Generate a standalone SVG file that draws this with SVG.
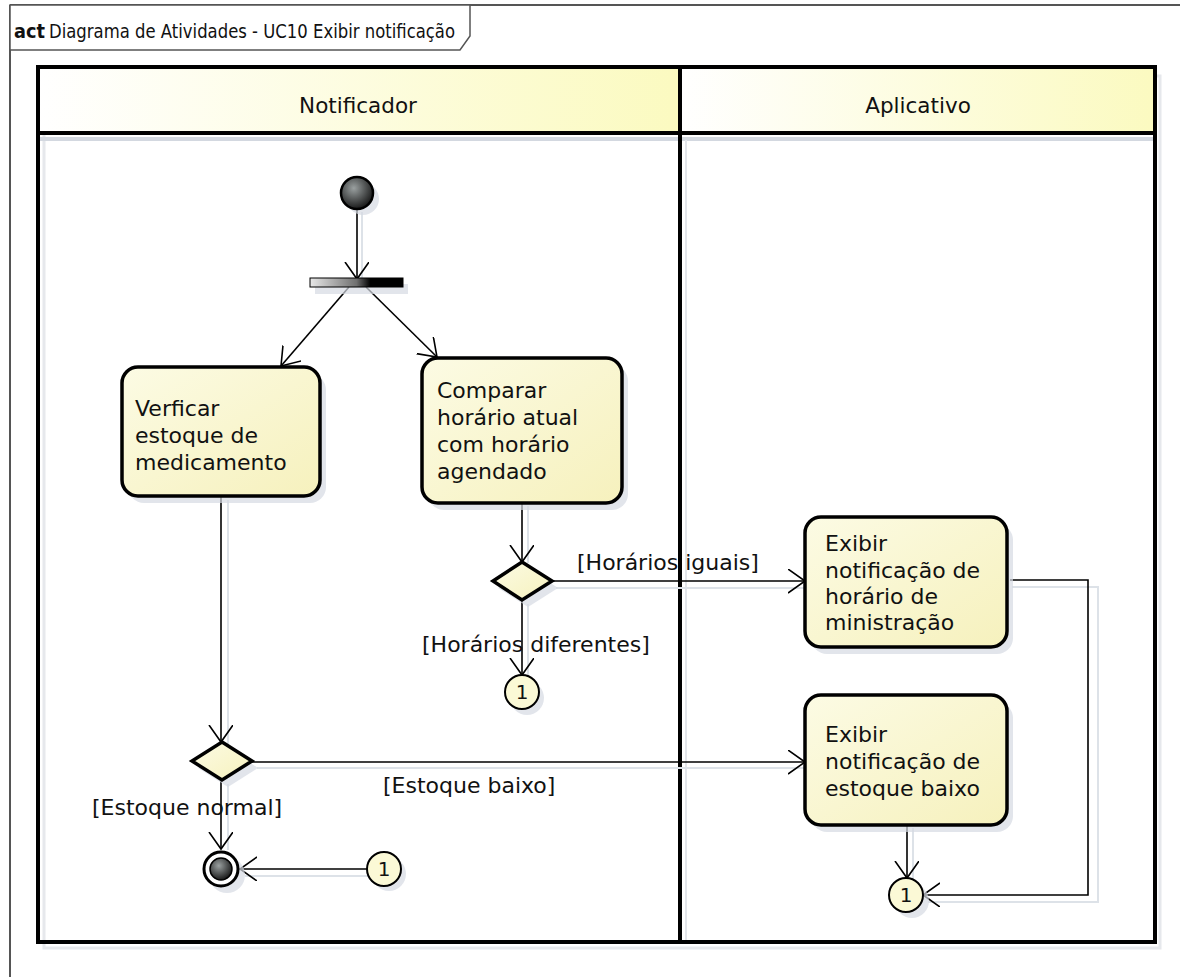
<svg xmlns="http://www.w3.org/2000/svg" width="1180" height="977" viewBox="0 0 1180 977">
<defs>
<style>
text{font-family:"DejaVu Sans","Liberation Sans",sans-serif;fill:#111}
.t{font-size:22px}
.h{font-size:21.5px}
.lbl{font-size:22px}
.n{font-size:20px}
.act{fill:url(#boxg);stroke:#000;stroke-width:3.5}
.shadow{fill:#d5dae2;opacity:.7}
.edge{fill:none;stroke:#000;stroke-width:1.6}
.edgeS{fill:none;stroke:#dde2e8;stroke-width:2}
.lane{fill:none;stroke:#000;stroke-width:4}
</style>
<linearGradient id="boxg" x1="0" y1="0" x2="1" y2="1">
<stop offset="0" stop-color="#fcfbe4"/>
<stop offset="1" stop-color="#f6f1bd"/>
</linearGradient>
<linearGradient id="headg" x1="0" y1="0" x2="1" y2="0">
<stop offset="0" stop-color="#ffffff"/>
<stop offset="1" stop-color="#fbfac0"/>
</linearGradient>
<linearGradient id="forkg" x1="0" y1="0" x2="1" y2="0">
<stop offset="0" stop-color="#e8e8e8"/>
<stop offset="0.5" stop-color="#707070"/>
<stop offset="0.65" stop-color="#000"/>
<stop offset="1" stop-color="#000"/>
</linearGradient>
<radialGradient id="ballg" cx="0.4" cy="0.35" r="0.7">
<stop offset="0" stop-color="#9aa0a0"/>
<stop offset="1" stop-color="#101010"/>
</radialGradient>
<marker id="arr" markerWidth="24" markerHeight="26" refX="17" refY="12" orient="auto" markerUnits="userSpaceOnUse">
<path d="M0,0 L17,12 L0,24" fill="none" stroke="#000" stroke-width="1.6"/>
</marker>
</defs>
<rect width="1180" height="977" fill="#fff"/>

<g id="frame">
<path d="M10,5 H1185 M10,5 V985" fill="none" stroke="#555" stroke-width="2"/>
<path d="M10,5 H470 V36 L460,50 H10 Z" fill="#fff" stroke="#555" stroke-width="1.5"/>
<text x="14" y="38" font-size="20" font-weight="bold" textLength="31" lengthAdjust="spacingAndGlyphs">act</text>
<text x="49" y="38" font-size="20" textLength="406" lengthAdjust="spacingAndGlyphs">Diagrama de Atividades - UC10 Exibir notificação</text>
</g>

<g id="lanes">
<rect x="44" y="76" width="1116" height="872" fill="none" stroke="#e6e8ec" stroke-width="3"/>
<rect x="38" y="67" width="642" height="66" fill="url(#headg)"/>
<rect x="680" y="67" width="475" height="66" fill="url(#headg)"/>
<line x1="40" y1="139" x2="1155" y2="139" stroke="#d3d8e0" stroke-width="4"/>
<rect x="38" y="67" width="1117" height="875" class="lane"/>
<line x1="38" y1="133" x2="1155" y2="133" stroke="#000" stroke-width="4"/>
<line x1="680" y1="67" x2="680" y2="942" stroke="#000" stroke-width="4"/>
<line x1="686" y1="140" x2="686" y2="940" stroke="#e2e5ea" stroke-width="2"/>
<text x="358" y="113" class="h" text-anchor="middle">Notificador</text>
<text x="918" y="113" class="h" text-anchor="middle">Aplicativo</text>
</g>

<g id="connectors">
<path class="edgeS" d="M362,212 V282 M228,500 V745 M528,506 V563 M556,588 H805 M528,604 V676 M1012,587 H1098 V902 H928 M913,828 V879 M257,768 H805 M228,784 V850 M372,876 H245"/>
<path class="edge" marker-end="url(#arr)" d="M357,209 L357,279"/>
<path class="edge" marker-end="url(#arr)" d="M349,287 L281,366"/>
<path class="edge" marker-end="url(#arr)" d="M366,287 L437,357"/>
<path class="edge" marker-end="url(#arr)" d="M522,503 L522,562"/>
<path class="edge" marker-end="url(#arr)" d="M552,581 L805,581"/>
<text x="577" y="570" class="lbl">[Horários iguais]</text>
<path class="edge" marker-end="url(#arr)" d="M522,600 L522,675"/>
<text x="422" y="652" class="lbl">[Horários diferentes]</text>
<path class="edge" marker-end="url(#arr)" d="M1010,580 H1088 V895 H923"/>
<path class="edge" marker-end="url(#arr)" d="M907,825 L907,878"/>
<path class="edge" marker-end="url(#arr)" d="M221,497 L221,742"/>
<path class="edge" marker-end="url(#arr)" d="M252,762 L805,762"/>
<text x="383" y="793" class="lbl">[Estoque baixo]</text>
<path class="edge" marker-end="url(#arr)" d="M221,780 L221,849"/>
<text x="92" y="815" class="lbl">[Estoque normal]</text>
<path class="edge" marker-end="url(#arr)" d="M367,869 L240,869"/>
</g>

<g id="initial">
<circle cx="363" cy="199" r="16" class="shadow"/>
<circle cx="357" cy="193" r="16" fill="url(#ballg)" stroke="#000" stroke-width="2.5"/>
</g>

<g id="fork">
<rect x="315" y="284" width="93" height="10" class="shadow"/>
<rect x="310" y="278" width="93" height="9" fill="url(#forkg)" stroke="#000" stroke-width="1"/>
</g>

<g id="verificar">
<rect x="128" y="374" width="198" height="129" rx="16" class="shadow"/>
<rect x="122" y="367" width="198" height="129" rx="16" class="act"/>
<text class="t"><tspan x="135" y="416">Verficar</tspan><tspan x="135" y="443">estoque de</tspan><tspan x="135" y="470">medicamento</tspan></text>
</g>

<g id="comparar">
<rect x="428" y="365" width="200" height="145" rx="16" class="shadow"/>
<rect x="422" y="358" width="200" height="145" rx="16" class="act"/>
<text class="t"><tspan x="437" y="398">Comparar</tspan><tspan x="437" y="425">horário atual</tspan><tspan x="437" y="452">com horário</tspan><tspan x="437" y="479">agendado</tspan></text>
</g>

<g id="decisao1">
<polygon points="528,568 558,588 528,607 498,588" class="shadow"/>
<polygon points="522,562 552,581 522,600 493,581" fill="url(#boxg)" stroke="#000" stroke-width="3.5"/>
</g>

<g id="conector1a">
<circle cx="527" cy="698" r="17" class="shadow"/>
<circle cx="522" cy="692" r="17" fill="#fbf9d6" stroke="#000" stroke-width="2"/>
<text x="522" y="699" class="n" text-anchor="middle">1</text>
</g>

<g id="exibirHorario">
<rect x="811" y="524" width="202" height="130" rx="16" class="shadow"/>
<rect x="805" y="517" width="202" height="130" rx="16" class="act"/>
<text class="t"><tspan x="825" y="551">Exibir</tspan><tspan x="825" y="578">notificação de</tspan><tspan x="825" y="604">horário de</tspan><tspan x="825" y="630">ministração</tspan></text>
</g>

<g id="exibirEstoque">
<rect x="811" y="702" width="202" height="130" rx="16" class="shadow"/>
<rect x="805" y="695" width="202" height="130" rx="16" class="act"/>
<text class="t"><tspan x="825" y="742">Exibir</tspan><tspan x="825" y="769">notificação de</tspan><tspan x="825" y="796">estoque baixo</tspan></text>
</g>

<g id="conector1b">
<circle cx="912" cy="901" r="17" class="shadow"/>
<circle cx="906" cy="895" r="17" fill="#fbf9d6" stroke="#000" stroke-width="2"/>
<text x="906" y="902" class="n" text-anchor="middle">1</text>
</g>

<g id="decisao2">
<polygon points="228,748 258,768 228,787 198,768" class="shadow"/>
<polygon points="222,742 252,761 222,780 192,761" fill="url(#boxg)" stroke="#000" stroke-width="3.5"/>
</g>

<g id="final">
<circle cx="227" cy="875" r="18" class="shadow"/>
<circle cx="221" cy="869" r="17" fill="#fff" stroke="#000" stroke-width="3"/>
<circle cx="221" cy="869" r="11" fill="url(#ballg)" stroke="#000" stroke-width="1.5"/>
</g>

<g id="conector1c">
<circle cx="389" cy="874" r="17" class="shadow"/>
<circle cx="384" cy="869" r="17" fill="#fbf9d6" stroke="#000" stroke-width="2"/>
<text x="384" y="876" class="n" text-anchor="middle">1</text>
</g>
</svg>
